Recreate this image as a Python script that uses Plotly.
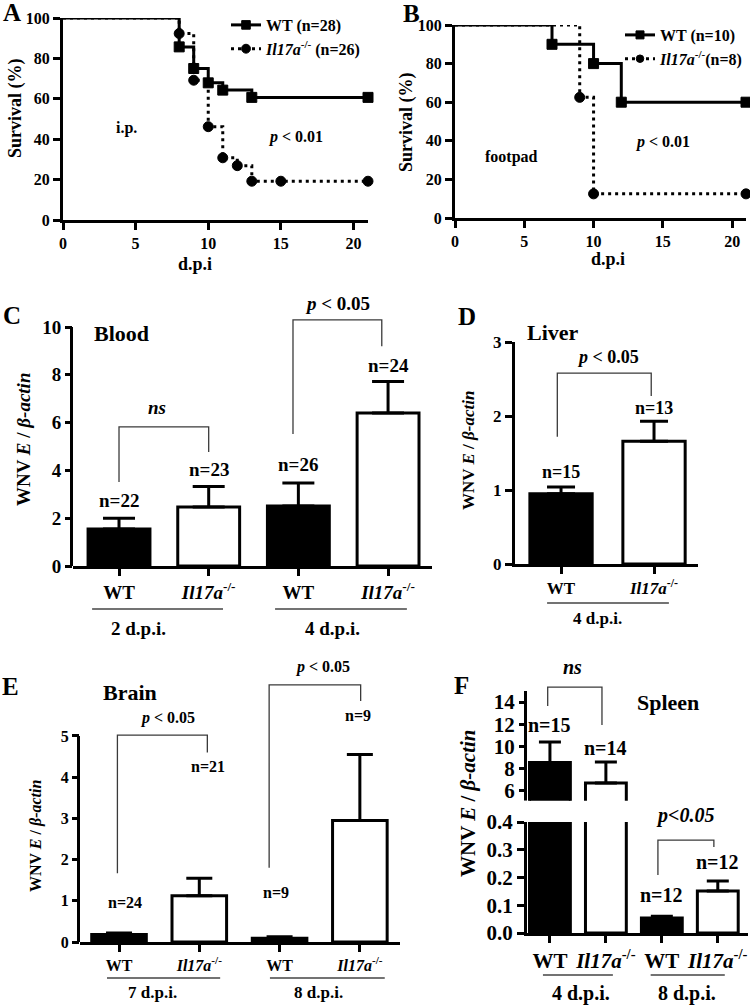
import plotly.graph_objects as go

W, H = 750, 1005
FONT = "'Liberation Serif', 'Times New Roman', Times, serif"
KO = "<i>Il17a</i><sup>-/-</sup>"

# ---------------- DATA ----------------
# Panel A: survival, i.p. infection
a_wt_day = [0, 8, 9, 10, 11, 13, 21]
a_wt_pct = [100, 85.7, 75.0, 67.9, 64.3, 60.7, 60.7]
a_ko_day = [0, 8, 9, 10, 11, 12, 13, 15, 21]
a_ko_pct = [100, 92.3, 69.2, 46.2, 30.8, 26.9, 19.2, 19.2, 19.2]
a_names = ["WT (n=28)", KO + " (n=26)"]

# Panel B: survival, footpad infection
b_wt_day = [0, 7, 10, 12, 21]
b_wt_pct = [100, 90, 80, 60, 60]
b_ko_day = [0, 9, 10, 21]
b_ko_pct = [100, 62.5, 12.5, 12.5]
b_names = ["WT (n=10)", KO + "(n=8)"]

surv_xticks = [0, 5, 10, 15, 20]
surv_yticks = [0, 20, 40, 60, 80, 100]

# Panel C: Blood
c_labels = ["WT", KO, "WT", KO]
c_mean = [1.55, 2.47, 2.51, 6.40]
c_sem = [0.45, 0.86, 0.96, 1.32]
c_n = ["n=22", "n=23", "n=26", "n=24"]
c_days = ["2 d.p.i.", "4 d.p.i."]
c_yticks = [0, 2, 4, 6, 8, 10]

# Panel D: Liver
d_labels = ["WT", KO]
d_mean = [0.95, 1.66]
d_sem = [0.09, 0.27]
d_n = ["n=15", "n=13"]
d_days = ["4 d.p.i."]
d_yticks = [0, 1, 2, 3]

# Panel E: Brain
e_labels = ["WT", KO, "WT", KO]
e_mean = [0.18, 1.12, 0.09, 2.95]
e_sem = [0.04, 0.43, 0.04, 1.60]
e_n = ["n=24", "n=21", "n=9", "n=9"]
e_days = ["7 d.p.i.", "8 d.p.i."]
e_yticks = [0, 1, 2, 3, 4, 5]

# Panel F: Spleen (broken axis)
f_labels = ["WT", KO, "WT", KO]
f_mean = [8.55, 6.70, 0.054, 0.151]
f_sem = [1.85, 1.90, 0.006, 0.036]
f_n = ["n=15", "n=14", "n=12", "n=12"]
f_days = ["4 d.p.i.", "8 d.p.i."]
f_yticks_top = [6, 8, 10, 12, 14]
f_yticks_bot = [0.0, 0.1, 0.2, 0.3, 0.4]

BAR_COLORS = ["black", "white", "black", "white"]

# ---------------- HELPERS ----------------
def xd(p0, p1):
    return [p0 / W, p1 / W]

def yd(ptop, pbot):
    return [1 - pbot / H, 1 - ptop / H]

def tf(size):
    return dict(family=FONT, size=size, color="black", weight="bold")

anns = []
shapes = []

def txt(s, x, y, size, xref="paper", yref="paper", angle=0, xanchor="center", yanchor="middle"):
    if xref == "paper":
        x = x / W
    if yref == "paper":
        y = 1 - y / H
    anns.append(dict(text=s, x=x, y=y, xref=xref, yref=yref, showarrow=False,
                     textangle=angle, xanchor=xanchor, yanchor=yanchor, font=tf(size)))

def bracket(ax, x0, x1, ytop, yl, yr):
    shapes.append(dict(type="path", xref="x" + ax, yref="y" + ax,
                       path=f"M {x0},{yl} L {x0},{ytop} L {x1},{ytop} L {x1},{yr}",
                       line=dict(color="#3a3a3a", width=1.3)))

def underline(ax, x0, x1, py):
    shapes.append(dict(type="line", xref="x" + ax, yref="paper", x0=x0, x1=x1,
                       y0=1 - py / H, y1=1 - py / H, line=dict(color="#444444", width=1.5)))

def yline(ax, y0, y1, wpx):
    off = -1.5 / wpx
    shapes.append(dict(type="line", xref="x" + ax + " domain", yref="y" + ax,
                       x0=off, x1=off, y0=y0, y1=y1, line=dict(color="black", width=3)))

def xaxis(dom, rng, tickvals, ticktext, size, visible=True):
    return dict(domain=xd(*dom), range=rng, tickvals=tickvals, ticktext=ticktext,
                showline=True, linewidth=3, linecolor="black", ticks="outside",
                ticklen=7, tickwidth=3, tickcolor="black", showgrid=False,
                zeroline=False, tickfont=tf(size), fixedrange=True, visible=visible)

def yaxis(dom, rng, tickvals, size, showline=True, fmt=None):
    d = dict(domain=yd(*dom), range=rng, tickvals=tickvals, showline=showline,
             linewidth=3, linecolor="black", ticks="outside", ticklen=7, tickwidth=3,
             tickcolor="black", showgrid=False, zeroline=False, tickfont=tf(size),
             fixedrange=True)
    if fmt:
        d["tickformat"] = fmt
    return d

fig = go.Figure()

# ---------------- SURVIVAL PANELS ----------------
def surv(ax, leg, day, pct, name, dashed):
    sizes = [0] + [10] * (len(day) - 1)
    fig.add_trace(go.Scatter(
        x=day, y=pct, name=name, mode="lines+markers",
        line=dict(shape="hv", color="black", width=3, dash="3px,4px" if dashed else "solid"),
        marker=dict(symbol="circle" if dashed else "square", size=sizes, color="#000000",
                    opacity=1, line=dict(color="#000000", width=1)),
        opacity=1,
        xaxis="x" + ax, yaxis="y" + ax, legend=leg, cliponaxis=False))

surv("", "legend", a_wt_day, a_wt_pct, a_names[0], False)
surv("", "legend", a_ko_day, a_ko_pct, a_names[1], True)
surv("2", "legend2", b_wt_day, b_wt_pct, b_names[0], False)
surv("2", "legend2", b_ko_day, b_ko_pct, b_names[1], True)

# ---------------- BAR PANELS ----------------
def bars(ax, mean, sem, width, cap):
    pos = list(range(len(mean)))
    fig.add_trace(go.Bar(
        x=pos, y=mean, width=width, showlegend=False,
        marker=dict(color=BAR_COLORS[:len(mean)], line=dict(color="black", width=3)),
        error_y=dict(type="data", symmetric=False, array=sem, arrayminus=[0] * len(mean),
                     color="black", thickness=3, width=cap),
        xaxis="x" + ax, yaxis="y" + ax))
    return pos

c_pos = bars("3", c_mean, c_sem, 0.69, 16)
d_pos = bars("4", d_mean, d_sem, 0.67, 14)
e_pos = bars("5", e_mean, e_sem, 0.68, 13)
f_pos = bars("6", f_mean, f_sem, 0.73, 11)
bars("7", f_mean, f_sem, 0.73, 11)

layout_axes = dict(
    xaxis=xaxis((63, 368), [0, 21], surv_xticks, [str(v) for v in surv_xticks], 16),
    yaxis=yaxis((18, 220), [0, 100], surv_yticks, 16),
    xaxis2=xaxis((455, 746), [0, 21], surv_xticks, [str(v) for v in surv_xticks], 16),
    yaxis2=yaxis((25, 218), [0, 100], surv_yticks, 16),
    xaxis3=xaxis((73, 432), [-0.513, 3.49], c_pos, c_labels, 19),
    yaxis3=yaxis((312.7, 566), [0, 10.6], c_yticks, 19, showline=False),
    xaxis4=xaxis((515, 698), [-0.495, 1.473], d_pos, d_labels, 17),
    yaxis4=yaxis((342, 564), [0, 3], d_yticks, 17),
    xaxis5=xaxis((80, 400), [-0.486, 3.5], e_pos, e_labels, 16),
    yaxis5=yaxis((678.3, 942), [0, 6.4], e_yticks, 16, showline=False),
    xaxis6=xaxis((527, 748), [-0.41, 3.54], f_pos, f_labels, 21),
    yaxis6=yaxis((822, 933), [0, 0.4], f_yticks_bot, 21, fmt=".1f"),
    xaxis7=xaxis((527, 748), [-0.41, 3.54], f_pos, f_labels, 21, visible=False),
    yaxis7=yaxis((685.4, 800.8), [5.1, 15.5], f_yticks_top, 21, showline=False),
)
for k in list(layout_axes):
    n = k[5:]
    layout_axes[k]["anchor"] = ("x" if k.startswith("y") else "y") + n

# axis lines drawn as shapes where annotations extend above the axis top
yline("3", 0, 10, 359)
yline("5", 0, 5, 320)
yline("7", 5.1, 15, 221)

# ---------------- ANNOTATIONS ----------------
for s, x, y in [("A", 12, 12), ("B", 411, 14), ("C", 12, 315), ("D", 467, 316),
                ("E", 10, 686), ("F", 461, 685)]:
    txt(s, x, y, 25)

txt("Survival (%)", 15, 108, 18, angle=-90)
txt("Survival (%)", 407, 122, 18, angle=-90)
txt("d.p.i", 195, 264, 18)
txt("d.p.i", 608, 259, 18)
txt("i.p.", 4.4, 45.5, 16, xref="x", yref="y")
txt("<i>p</i> &lt; 0.01", 16.0, 41.1, 16, xref="x", yref="y")
txt("footpad", 4.1, 31.6, 16, xref="x2", yref="y2")
txt("<i>p</i> &lt; 0.01", 15.0, 39.4, 16, xref="x2", yref="y2")

YT = "WNV <i>E</i> / <i>β-actin</i>"
txt(YT, 23, 440, 19, angle=-90)
txt(YT, 469, 451, 17, angle=-90)
txt(YT, 36, 836, 16, angle=-90)
txt(YT, 468, 804, 21, angle=-90)

# panel C
txt("Blood", 122, 333, 22)
for i, yv in enumerate([2.76, 4.02, 4.23, 8.37]):
    txt(c_n[i], c_pos[i], yv, 19, xref="x3", yref="y3")
txt("<i>ns</i>", 157, 407, 19)
txt("<i>p</i> &lt; 0.05", 337, 303, 19)
bracket("3", 0.0, 1.0, 5.82, 3.51, 4.77)
bracket("3", 1.94, 2.93, 10.3, 5.52, 9.2)
underline("3", -0.30, 1.16, 609)
underline("3", 1.74, 3.21, 609)
txt(c_days[0], 138, 628, 19)
txt(c_days[1], 332, 628, 19)

# panel D
txt("Liver", 553, 332, 22)
for i, yv in enumerate([1.24, 2.11]):
    txt(d_n[i], d_pos[i], yv, 18, xref="x4", yref="y4")
txt("<i>p</i> &lt; 0.05", 608, 357, 18)
bracket("4", -0.04, 0.97, 2.58, 1.72, 2.27)
underline("4", -0.15, 1.16, 603)
txt(d_days[0], 597, 618, 17)

# panel E
txt("Brain", 130, 692, 22)
for i, yv in enumerate([0.95, 4.25, 1.19, 5.49]):
    txt(e_n[i], e_pos[i] + [0.07, 0.11, -0.05, -0.02][i], yv, 16, xref="x5", yref="y5")
txt("<i>p</i> &lt; 0.05", 167, 718, 16)
txt("<i>p</i> &lt; 0.05", 322, 667, 16)
bracket("5", -0.02, 1.10, 5.02, 1.67, 4.6)
bracket("5", 1.87, 3.01, 6.24, 1.8, 5.85)
underline("5", -0.15, 1.26, 978)
underline("5", 1.88, 3.31, 978)
txt(e_days[0], 152, 992, 17)
txt(e_days[1], 318, 992, 17)

# panel F
txt("Spleen", 668, 702, 22)
txt(f_n[0], f_pos[0], 11.93, 20, xref="x7", yref="y7")
txt(f_n[1], f_pos[1], 9.87, 20, xref="x7", yref="y7")
txt(f_n[2], f_pos[2], 0.137, 20, xref="x6", yref="y6")
txt(f_n[3], f_pos[3], 0.256, 20, xref="x6", yref="y6")
txt("<i>ns</i>", 572, 667, 20)
txt("<i>p&lt;0.05</i>", 685, 815, 20)
bracket("7", -0.04, 0.93, 15.35, 13.64, 11.93)
bracket("6", 1.93, 2.93, 0.335, 0.209, 0.31)
underline("6", -0.125, 1.125, 975)
underline("6", 1.80, 3.125, 975)
txt(f_days[0], 581, 993, 20)
txt(f_days[1], 687, 993, 20)

leg_common = dict(xanchor="left", yanchor="top", bgcolor="rgba(0,0,0,0)",
                  font=tf(16), itemwidth=30, borderwidth=0)

fig.update_layout(
    width=W, height=H, autosize=False,
    margin=dict(l=0, r=0, t=0, b=0, autoexpand=False),
    paper_bgcolor="white", plot_bgcolor="white",
    font=dict(family=FONT, size=16, color="black", weight="bold"),
    showlegend=True,
    legend=dict(x=226 / W, y=1 - 8 / H, **leg_common),
    legend2=dict(x=620 / W, y=1 - 18 / H, **leg_common),
    bargap=0,
    annotations=anns,
    shapes=shapes,
    **layout_axes,
)

fig.write_html(
    "out.html",
    config={"displayModeBar": False, "staticPlot": True},
    post_script="document.body.style.margin='0px';document.body.style.padding='0px';"
                "document.documentElement.style.overflow='hidden';",
)
